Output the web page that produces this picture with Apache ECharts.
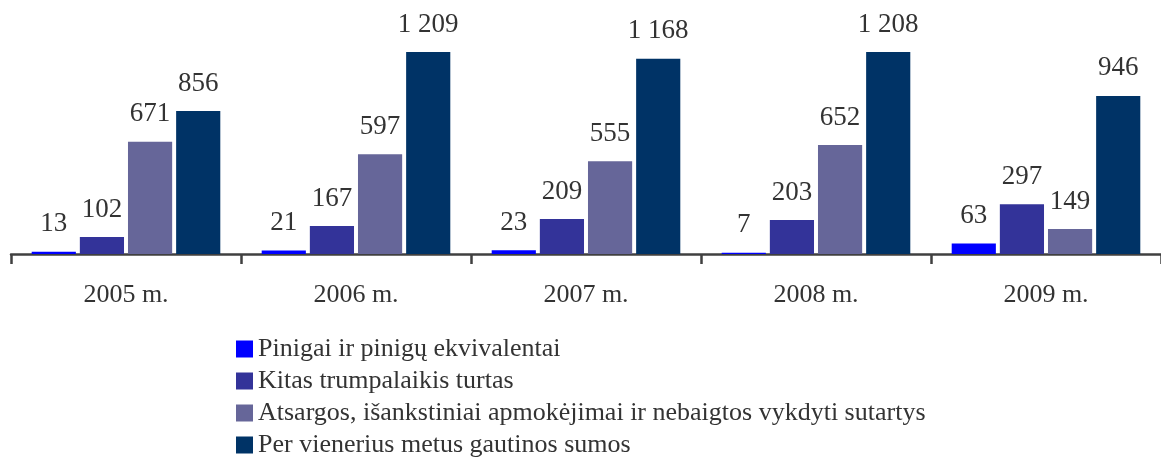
<!DOCTYPE html>
<html>
<head>
<meta charset="utf-8">
<script src="https://cdn.jsdelivr.net/npm/echarts@6/dist/echarts.min.js"></script>
<style>
  html, body { margin: 0; padding: 0; background: #fff; }
  #chart { width: 1161px; height: 462px; }
</style>
</head>
<body>
<div id="chart"></div>
<script>
const categories = ['2005 m.', '2006 m.', '2007 m.', '2008 m.', '2009 m.']
const seriesNames = [
  'Pinigai ir pinigų ekvivalentai',
  'Kitas trumpalaikis turtas',
  'Atsargos, išankstiniai apmokėjimai ir nebaigtos vykdyti sutartys',
  'Per vienerius metus gautinos sumos'
]
const cash = [13, 21, 23, 7, 63]
const otherAssets = [102, 167, 209, 203, 297]
const inventories = [671, 597, 555, 652, 149]
const receivables = [856, 1209, 1168, 1208, 946]
const colors = ['#0000ff', '#333399', '#666699', '#003366']

const font = '"Liberation Serif", "Times New Roman", serif'
const fmt = (v) => String(v).replace(/\B(?=(\d{3})+(?!\d))/g, ' ')

const chart = echarts.init(document.getElementById('chart'))

const makeSeries = (name, data, i) => ({
  name: name,
  type: 'bar',
  data: data,
  barGap: '9%',
  barCategoryGap: '18%',
  itemStyle: { color: colors[i] },
  label: {
    show: true,
    position: 'top',
    distance: 14,
    fontFamily: font,
    fontSize: 27,
    color: '#333',
    formatter: (p) => fmt(p.value)
  }
})

chart.setOption({
  animation: false,
  textStyle: { fontFamily: font },
  grid: { left: 11, right: 0, top: 20, bottom: 208 },
  legend: {
    orient: 'vertical',
    left: 236,
    top: 336,
    bottom: 0,
    padding: 0,
    itemWidth: 17,
    itemHeight: 17,
    itemGap: 6,
    icon: 'rect',
    textStyle: { fontFamily: font, fontSize: 26, color: '#333' },
    data: seriesNames
  },
  xAxis: {
    type: 'category',
    data: categories,
    axisLine: { lineStyle: { color: '#404040', width: 2.5 } },
    axisTick: { show: true, length: 10, lineStyle: { color: '#404040', width: 2.5 } },
    axisLabel: { margin: 28, fontFamily: font, fontSize: 26, color: '#333' }
  },
  yAxis: {
    type: 'value',
    min: 0,
    max: 1400,
    show: false,
    splitLine: { show: false }
  },
  series: [
    makeSeries(seriesNames[0], cash, 0),
    makeSeries(seriesNames[1], otherAssets, 1),
    makeSeries(seriesNames[2], inventories, 2),
    makeSeries(seriesNames[3], receivables, 3)
  ]
})
</script>
</body>
</html>
